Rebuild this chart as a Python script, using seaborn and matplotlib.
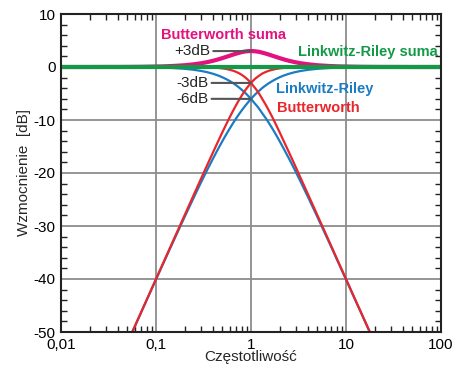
import matplotlib
matplotlib.use('Agg')
import matplotlib.pyplot as plt
import seaborn as sns
import pandas as pd
from matplotlib.ticker import FixedLocator, FixedFormatter, LogLocator, MultipleLocator, NullFormatter

# ---- data (frequency relative to crossover, gain in dB) ----
freq = [0.01, 0.02, 0.03, 0.04, 0.05, 0.06, 0.07, 0.08, 0.1, 0.12, 0.15,
        0.2, 0.25, 0.3, 0.35, 0.4, 0.45, 0.5, 0.55, 0.6, 0.65, 0.7, 0.75, 0.8, 0.85, 0.9, 0.95,
        1.0,
        1.05, 1.11, 1.18, 1.25, 1.33, 1.43, 1.54, 1.67, 1.82, 2.0, 2.22, 2.5, 2.86, 3.33, 4.0,
        5.0, 6.67, 8.33, 10, 12.5, 14.3, 16.7, 20, 25, 33.3, 50, 100]

bw_lowpass = [0, 0, 0, 0, 0, 0, 0, 0, 0, 0, 0,
              -0.01, -0.02, -0.04, -0.07, -0.11, -0.17, -0.26, -0.38, -0.53, -0.71, -0.93, -1.19,
              -1.49, -1.82, -2.19, -2.59,
              -3.01,
              -3.48, -4.02, -4.65, -5.37, -6.19, -7.13, -8.20, -9.40, -10.77, -12.30, -14.05,
              -16.03, -18.30, -20.95, -24.10, -27.97, -32.96, -36.83, -40.00, -43.88, -46.20,
              -48.87, -52.04, -55.9, -60.9, -68.0, -80.0]

bw_highpass = [-80.0, -68.0, -60.9, -55.9, -52.04, -48.87, -46.20, -43.88, -40.00, -36.83, -32.96,
               -27.97, -24.10, -20.95, -18.30, -16.03, -14.05, -12.30, -10.77, -9.40, -8.20, -7.13,
               -6.19, -5.37, -4.65, -4.02, -3.48,
               -3.01,
               -2.59, -2.19, -1.82, -1.49, -1.19, -0.93, -0.71, -0.53, -0.38, -0.26, -0.17, -0.11,
               -0.07, -0.04, -0.02, -0.01, 0, 0, 0, 0, 0, 0, 0, 0, 0, 0, 0]

lr_lowpass = [0, 0, 0, -0.01, -0.02, -0.03, -0.04, -0.06, -0.09, -0.12, -0.19,
              -0.34, -0.53, -0.75, -1.00, -1.29, -1.60, -1.94, -2.30, -2.67, -3.06, -3.46, -3.88,
              -4.30, -4.72, -5.15, -5.59,
              -6.02,
              -6.48, -6.99, -7.55, -8.17, -8.87, -9.66, -10.54, -11.55, -12.68, -13.98, -15.47,
              -17.21, -19.24, -21.65, -24.61, -28.30, -33.15, -36.96, -40.09, -43.93, -46.24,
              -48.91, -52.06, -55.9, -60.9, -68.0, -80.0]

lr_highpass = [-80.0, -68.0, -60.9, -55.9, -52.06, -48.91, -46.24, -43.93, -40.09, -36.96, -33.15,
               -28.30, -24.61, -21.65, -19.24, -17.21, -15.47, -13.98, -12.68, -11.55, -10.54,
               -9.66, -8.87, -8.17, -7.55, -6.99, -6.48,
               -6.02,
               -5.59, -5.15, -4.72, -4.30, -3.88, -3.46, -3.06, -2.67, -2.30, -1.94, -1.60, -1.29,
               -1.00, -0.75, -0.53, -0.34, -0.19, -0.12, -0.09, -0.06, -0.04, -0.03, -0.02, -0.01,
               0, 0, 0]

bw_sum = [0, 0, 0.01, 0.01, 0.02, 0.03, 0.04, 0.06, 0.09, 0.12, 0.19,
          0.33, 0.51, 0.71, 0.94, 1.18, 1.43, 1.68, 1.92, 2.14, 2.35, 2.53, 2.68, 2.81, 2.90,
          2.96, 3.00,
          3.01,
          3.00, 2.96, 2.90, 2.81, 2.68, 2.53, 2.35, 2.14, 1.92, 1.68, 1.43, 1.18, 0.94, 0.71,
          0.51, 0.33, 0.19, 0.12, 0.09, 0.06, 0.04, 0.03, 0.02, 0.01, 0.01, 0, 0]

lr_sum_freq = [0.01, 100]
lr_sum = [0.0, 0.0]

x_ticks = [0.01, 0.1, 1, 10, 100]
x_tick_labels = ['0,01', '0,1', '1', '10', '100']
y_ticks = [-50, -40, -30, -20, -10, 0, 10]

# ---- styling ----
sns.set_style('ticks')
plt.rcParams['font.family'] = ['Liberation Sans', 'DejaVu Sans']
plt.rcParams['axes.unicode_minus'] = False

RED = '#e8262b'
BLUE = '#1b7cc3'
MAGENTA = '#e2127f'
GREEN = '#139a47'
LEAD = '#555555'

fig = plt.figure(figsize=(4.56, 3.65), dpi=100)
ax = fig.add_axes([61 / 456, 1 - 332 / 365, 380 / 456, 318 / 365])

df = pd.DataFrame({'f': freq, 'bw_lp': bw_lowpass, 'bw_hp': bw_highpass,
                   'lr_lp': lr_lowpass, 'lr_hp': lr_highpass, 'bw_sum': bw_sum})
df_lr_sum = pd.DataFrame({'f': lr_sum_freq, 'db': lr_sum})

ax.set_xscale('log')
for col, colr, lw in [('lr_lp', BLUE, 1.6), ('lr_hp', BLUE, 1.6),
                      ('bw_lp', RED, 1.6), ('bw_hp', RED, 1.6),
                      ('bw_sum', MAGENTA, 3.0)]:
    sns.lineplot(data=df, x='f', y=col, color=colr, linewidth=lw, ax=ax,
                 estimator=None, sort=False, legend=False)
sns.lineplot(data=df_lr_sum, x='f', y='db', color=GREEN, linewidth=3.0, ax=ax,
             estimator=None, sort=False, legend=False)

ax.set_xlim(0.01, 100)
ax.set_ylim(-50, 10)

ax.xaxis.set_major_locator(FixedLocator(x_ticks))
ax.xaxis.set_major_formatter(FixedFormatter(x_tick_labels))
ax.xaxis.set_minor_locator(LogLocator(base=10, subs=range(2, 10)))
ax.xaxis.set_minor_formatter(NullFormatter())
ax.yaxis.set_major_locator(FixedLocator(y_ticks))
ax.yaxis.set_minor_locator(MultipleLocator(2))

ax.grid(True, which='major', color='#8c8c8c', linewidth=1.3)
ax.set_axisbelow(True)
ax.tick_params(which='both', direction='in', top=True, right=True, colors='#222222',
               labelsize=11, labelcolor='black', width=1.0)
ax.tick_params(which='major', length=0, pad=4)
ax.tick_params(which='minor', length=4)
for s in ax.spines.values():
    s.set_color('#222222')
    s.set_linewidth(1.5)

ax.set_xlabel('Częstotliwość', fontsize=11, labelpad=-1)
ax.set_ylabel('Wzmocnienie  [dB]', fontsize=11, labelpad=2)

# ---- annotations ----
i_c = freq.index(1.0)
arrow = dict(arrowstyle='-', color=LEAD, lw=1.5, shrinkA=0, shrinkB=0)
ax.annotate('+3dB', xy=(freq[i_c], bw_sum[i_c]), xytext=(0.37, 3.0), ha='right', va='center',
            fontsize=11, arrowprops=arrow)
ax.annotate('-3dB', xy=(freq[i_c], bw_lowpass[i_c]), xytext=(0.355, -3.0), ha='right', va='center',
            fontsize=11, arrowprops=arrow)
ax.annotate('-6dB', xy=(freq[i_c], lr_lowpass[i_c]), xytext=(0.355, -6.0), ha='right', va='center',
            fontsize=11, arrowprops=arrow)

ax.text(0.112, 6.0, 'Butterworth suma', color=MAGENTA, fontsize=10.5, fontweight='bold',
        ha='left', va='center')
ax.text(3.1, 2.8, 'Linkwitz-Riley suma', color=GREEN, fontsize=10.5, fontweight='bold',
        ha='left', va='center')
ax.text(1.83, -4.15, 'Linkwitz-Riley', color=BLUE, fontsize=10.5, fontweight='bold',
        ha='left', va='center')
ax.text(1.86, -7.7, 'Butterworth', color=RED, fontsize=10.5, fontweight='bold',
        ha='left', va='center')

fig.savefig('out.png', dpi=100)
